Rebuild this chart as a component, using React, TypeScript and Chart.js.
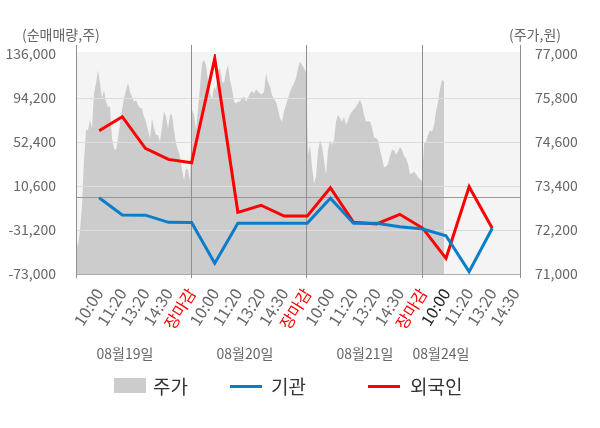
import { useEffect, useRef } from "react";
import { Chart, registerables } from "chart.js";

Chart.register(...registerables);

const FONT = "'Noto Sans CJK KR', 'Noto Sans', sans-serif";

// --- data ---
const timeLabels = [
  "10:00", "11:20", "13:20", "14:30", "장마감",
  "10:00", "11:20", "13:20", "14:30", "장마감",
  "10:00", "11:20", "13:20", "14:30", "장마감",
  "10:00", "11:20", "13:20", "14:30",
];
const todayIndex = 15;

// 외국인 순매매량 (주)
const foreign = [
  63100, 76400, 46400, 35900, 32700,
  131900, -14400, -7700, -18000, -18000,
  9000, -23900, -25500, -16300, -29600,
  -58100, 9900, -29600,
];
// 기관 순매매량 (주)
const institution = [
  -500, -17000, -17100, -23900, -24000,
  -62800, -24800, -24800, -24800, -24800,
  -1100, -24800, -24800, -28100, -30300,
  -36600, -70800, -29600,
];

const volumeTicks = [136000, 94200, 52400, 10600, -31200, -73000];
const priceTicks = [77000, 75800, 74600, 73400, 72200, 71000];

// 주가 (원), 분 단위
const price = [
  // 08/19
  71970, 71750, 72200, 72840, 74110, 74930, 74930, 75200, 74970, 75930,
  76200, 76560, 76200, 75790, 76020, 75700, 75560, 75560, 74700, 74430,
  74380, 74700, 75110, 75470, 75790, 76020, 76200, 75970, 75840, 75700,
  75740, 75610, 75520, 75520, 75290, 75150, 74930, 74700, 75250, 74970,
  74790, 74790, 74610, 75020, 75430, 75290, 74970, 75340, 75340, 74930,
  74560, 74380, 74200, 73840, 73560, 73880, 73840, 73520,
  // 08/20
  75470, 75340, 74930, 75470, 76110, 76750, 76840, 76700, 76250, 75930,
  75750, 76110, 76020, 76560, 76610, 76250, 76200, 76520, 76700, 76290,
  76060, 75700, 75650, 75700, 75700, 75800, 75840, 75700, 75800, 75920,
  76000, 75920, 76040, 75970, 75920, 75900, 75970, 76470, 76250, 76110,
  75880, 75770, 75700, 75470, 75250, 75150, 75430, 75610, 75790, 75970,
  76090, 76200, 76340, 76610, 76790, 76700, 76610, 76520,
  // 08/21
  74250, 74520, 73930, 73470, 73650, 74340, 74650, 74470, 74110, 73700,
  74380, 74650, 74520, 74650, 75150, 75340, 75250, 75150, 75290, 75060,
  75200, 75340, 75430, 75490, 75560, 75650, 75760, 75610, 75340, 75150,
  75170, 75150, 75000, 74730, 74700, 74650, 74380, 74160, 73910, 73930,
  74000, 74220, 74380, 74380, 74250, 74340, 74470, 74380, 74220, 74160,
  74000, 73730, 73750, 73790, 73730, 73640, 73590, 73520,
  // 08/24
  74560, 74610, 74790, 74930, 74880, 75060, 75430, 75700, 76060, 76290,
  76250,
];
const priceSlots = 222;

const dayLabels = [
  { text: "08월19일", left: 125 },
  { text: "08월20일", left: 245 },
  { text: "08월21일", left: 365 },
  { text: "08월24일", left: 441 },
];

const RED = "#ff0000";
const BLUE = "#0a7dca";
const GRAY = "#cccccc";

const framePlugin = {
  id: "frame",
  beforeDraw(chart: any) {
    const { ctx, chartArea: a } = chart;
    ctx.save();
    ctx.fillStyle = "#f4f4f4";
    ctx.fillRect(a.left, a.top - 2, a.right - a.left, a.bottom - a.top + 2);
    ctx.restore();
  },
  afterDatasetDraw(chart: any, args: any) {
    if (args.index !== 2) return;
    const { ctx, chartArea: a, scales } = chart;
    const y = scales.y;
    const x = scales.x;
    ctx.save();
    ctx.lineWidth = 1;
    const hline = (py: number, color: string) => {
      const p = Math.round(py) + 0.5;
      ctx.strokeStyle = color;
      ctx.beginPath();
      ctx.moveTo(a.left, p);
      ctx.lineTo(a.right, p);
      ctx.stroke();
    };
    volumeTicks.slice(1, -1).forEach((v) => hline(y.getPixelForValue(v), "#dddddd"));
    hline(y.getPixelForValue(0), "#999999");
    hline(a.bottom, "#aaaaaa");
    const xs: number[] = [a.left];
    timeLabels.forEach((l, i) => {
      if (l === "장마감") xs.push(x.getPixelForValue(i) - 1);
    });
    xs.push(a.right);
    ctx.strokeStyle = "#8f8f8f";
    xs.forEach((px) => {
      const p = Math.round(px) + 0.5;
      ctx.beginPath();
      ctx.moveTo(p, a.top - 9);
      ctx.lineTo(p, a.bottom + 4);
      ctx.stroke();
    });
    ctx.restore();
  },
};

export default function App() {
  const canvasRef = useRef<HTMLCanvasElement | null>(null);

  useEffect(() => {
    if (!canvasRef.current) return;
    const chart = new Chart(canvasRef.current, {
      type: "line",
      data: {
        datasets: [
          {
            label: "외국인",
            data: foreign.map((v, i) => ({ x: i, y: v })),
            borderColor: RED,
            borderWidth: 3,
            pointRadius: 0,
            xAxisID: "x",
            yAxisID: "y",
            order: 2,
          },
          {
            label: "기관",
            data: institution.map((v, i) => ({ x: i, y: v })),
            borderColor: BLUE,
            borderWidth: 3,
            pointRadius: 0,
            xAxisID: "x",
            yAxisID: "y",
            order: 1,
          },
          {
            label: "주가",
            data: price.map((v, i) => ({ x: i, y: v })),
            backgroundColor: GRAY,
            borderColor: "rgba(0,0,0,0)",
            borderWidth: 0,
            pointRadius: 0,
            fill: "start",
            xAxisID: "xp",
            yAxisID: "y1",
            order: 3,
          },
        ],
      },
      options: {
        responsive: false,
        maintainAspectRatio: false,
        animation: false,
        layout: { padding: { top: 54, left: 0, right: 0, bottom: 0 } },
        plugins: { legend: { display: false }, tooltip: { enabled: false } },
        scales: {
          x: {
            type: "linear",
            position: "bottom",
            min: -1,
            max: 18.2,
            grid: { display: false },
            border: { display: false },
            afterBuildTicks: (s: any) => {
              s.ticks = timeLabels.map((_, i) => ({ value: i }));
            },
            afterFit: (s: any) => {
              s.height = 154;
            },
            ticks: {
              autoSkip: false,
              minRotation: 58,
              maxRotation: 58,
              padding: 3,
              font: { family: FONT, size: 16 },
              color: (c: any) => {
                const i = c.tick?.value;
                if (timeLabels[i] === "장마감") return RED;
                if (i === todayIndex) return "#222222";
                return "#666666";
              },
              callback: (v: any) => timeLabels[v] ?? "",
            },
          },
          xp: {
            type: "linear",
            display: false,
            min: 0,
            max: priceSlots,
          },
          y: {
            position: "left",
            min: -73000,
            max: 136000,
            grid: { display: false },
            border: { display: false },
            afterBuildTicks: (s: any) => {
              s.ticks = volumeTicks.map((v) => ({ value: v }));
            },
            afterFit: (s: any) => {
              s.width = 76;
            },
            ticks: {
              padding: 12,
              color: "#666666",
              font: { family: FONT, size: 14 },
              callback: (v: any) => Number(v).toLocaleString("en-US"),
            },
          },
          y1: {
            position: "right",
            min: 71000,
            max: 77000,
            grid: { display: false },
            border: { display: false },
            afterBuildTicks: (s: any) => {
              s.ticks = priceTicks.map((v) => ({ value: v }));
            },
            afterFit: (s: any) => {
              s.width = 80;
            },
            ticks: {
              padding: 7,
              color: "#666666",
              font: { family: FONT, size: 14 },
              callback: (v: any) => Number(v).toLocaleString("en-US"),
            },
          },
        },
      },
      plugins: [framePlugin],
    });
    return () => chart.destroy();
  }, []);

  const text = (extra: any) => ({
    position: "absolute" as const,
    fontFamily: FONT,
    whiteSpace: "nowrap" as const,
    ...extra,
  });

  return (
    <div style={{ position: "absolute", left: 0, top: 0, width: 600, height: 428, background: "#fff" }}>
      <canvas ref={canvasRef} width={600} height={428} style={{ display: "block" }} />
      <div style={text({ left: 22, top: 24, fontSize: 14, lineHeight: "20px", color: "#666" })}>(순매매량,주)</div>
      <div style={text({ left: 509, top: 24, fontSize: 14, lineHeight: "20px", color: "#666" })}>(주가,원)</div>
      {dayLabels.map((d) => (
        <div
          key={d.text}
          style={text({ left: d.left, top: 343, fontSize: 14, lineHeight: "20px", color: "#666", transform: "translateX(-50%)" })}
        >
          {d.text}
        </div>
      ))}
      {/* legend */}
      <div style={{ position: "absolute", left: 114, top: 378, width: 32, height: 15, background: GRAY }} />
      <div style={text({ left: 153, top: 374, fontSize: 19, lineHeight: "24px", color: "#333" })}>주가</div>
      <div style={{ position: "absolute", left: 230, top: 385, width: 32, height: 3, background: BLUE }} />
      <div style={text({ left: 271, top: 374, fontSize: 19, lineHeight: "24px", color: "#333" })}>기관</div>
      <div style={{ position: "absolute", left: 368, top: 385, width: 32, height: 3, background: RED }} />
      <div style={text({ left: 410, top: 374, fontSize: 19, lineHeight: "24px", color: "#333" })}>외국인</div>
    </div>
  );
}
